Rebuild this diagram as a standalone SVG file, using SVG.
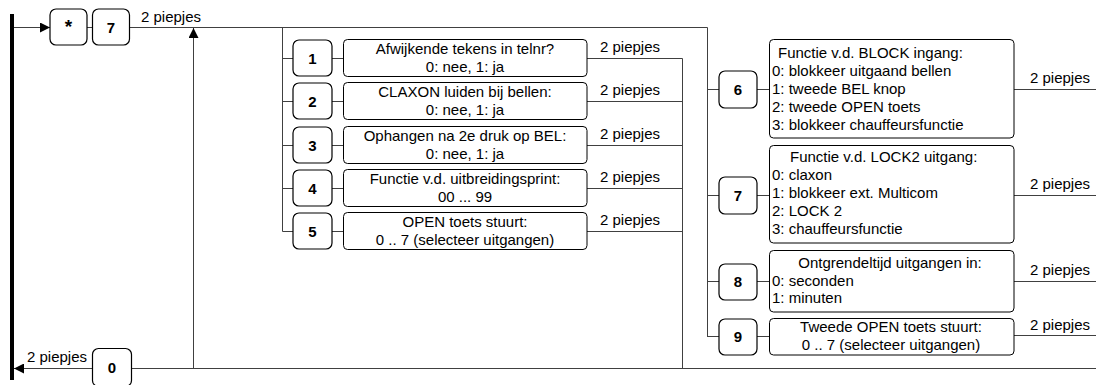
<svg xmlns="http://www.w3.org/2000/svg" width="1096" height="385" viewBox="0 0 1096 385">
<defs>
<marker id="ah" viewBox="0 0 10 10" refX="10" refY="5" markerWidth="10" markerHeight="10" markerUnits="userSpaceOnUse" orient="auto">
<path d="M0,0 L10,5 L0,10 z" fill="#000"/>
</marker>
</defs>
<style>
text{font-family:"Liberation Sans",Arial,sans-serif;font-size:15px;fill:#000}
.n{font-weight:bold;text-anchor:middle}
.c{text-anchor:middle}
.k{fill:#fff;stroke:#000;stroke-width:1.2}
.t{fill:#fff;stroke:#000;stroke-width:1}
.w{fill:none;stroke:#404040;stroke-width:1}
</style>
<g id="connectors">
<rect x="10" y="14" width="4" height="366" fill="#000"/>
<path class="w" d="M14,27.5 H50" marker-end="url(#ah)"/>
<path class="w" d="M87,27.5 H92 M130,27.5 H707.5 V337"/>
<path class="w" d="M193.5,368 V28" marker-end="url(#ah)"/>
<path class="w" d="M1096,368.5 H14" marker-end="url(#ah)"/>
<path class="w" d="M282.5,27.5 V231.5"/>
<path class="w" d="M682.5,58.5 V368"/>
<path class="w" d="M282.5,58.5 H293 M332,58.5 H343 M587,58.5 H682.5"/>
<path class="w" d="M282.5,101.5 H293 M332,101.5 H343 M587,101.5 H682.5"/>
<path class="w" d="M282.5,145.5 H293 M332,145.5 H343 M587,145.5 H682.5"/>
<path class="w" d="M282.5,188.5 H293 M332,188.5 H343 M587,188.5 H682.5"/>
<path class="w" d="M282.5,231.5 H293 M332,231.5 H343 M587,231.5 H682.5"/>
<path class="w" d="M707.5,89.5 H719 M757,89.5 H769 M1014,89.5 H1096"/>
<path class="w" d="M707.5,195.5 H719 M757,195.5 H769 M1014,195.5 H1096"/>
<path class="w" d="M707.5,281.5 H719 M757,281.5 H769 M1014,281.5 H1096"/>
<path class="w" d="M707.5,336.5 H719 M757,336.5 H769 M1014,335.5 H1096"/>
<text x="141" y="22">2 piepjes</text>
<text x="27" y="362">2 piepjes</text>
<text x="600" y="52">2 piepjes</text>
<text x="600" y="95">2 piepjes</text>
<text x="600" y="139">2 piepjes</text>
<text x="600" y="182">2 piepjes</text>
<text x="600" y="225">2 piepjes</text>
<text x="1030" y="83">2 piepjes</text>
<text x="1030" y="189">2 piepjes</text>
<text x="1030" y="275">2 piepjes</text>
<text x="1030" y="330">2 piepjes</text>
</g>
<g id="star"><rect class="k" x="50" y="9" width="37" height="36" rx="6"/><text class="n" x="68.5" y="32.5" style="font-size:19px">*</text></g>
<g id="seven"><rect class="k" x="92.5" y="9" width="37" height="36" rx="6"/><text class="n" x="111" y="33">7</text></g>
<g id="zero"><rect class="k" x="92.5" y="348.5" width="39" height="38" rx="6"/><text class="n" x="112" y="373">0</text></g>

<g id="n1"><rect class="k" x="293" y="40" width="39" height="36" rx="6"/><text class="n" x="312.5" y="63.5">1</text></g>
<g id="b1"><rect class="t" x="343.5" y="39.5" width="243.5" height="37" rx="4"/><text class="c" x="465" y="54">Afwijkende tekens in telnr?</text><text class="c" x="465" y="72">0: nee, 1: ja</text></g>
<g id="n2"><rect class="k" x="293" y="83" width="39" height="36" rx="6"/><text class="n" x="312.5" y="106.5">2</text></g>
<g id="b2"><rect class="t" x="343.5" y="82.5" width="243.5" height="37" rx="4"/><text class="c" x="465" y="97">CLAXON luiden bij bellen:</text><text class="c" x="465" y="115">0: nee, 1: ja</text></g>
<g id="n3"><rect class="k" x="293" y="127" width="39" height="36" rx="6"/><text class="n" x="312.5" y="150.5">3</text></g>
<g id="b3"><rect class="t" x="343.5" y="126.5" width="243.5" height="37" rx="4"/><text class="c" x="465" y="141">Ophangen na 2e druk op BEL:</text><text class="c" x="465" y="159">0: nee, 1: ja</text></g>
<g id="n4"><rect class="k" x="293" y="170" width="39" height="36" rx="6"/><text class="n" x="312.5" y="193.5">4</text></g>
<g id="b4"><rect class="t" x="343.5" y="169.5" width="243.5" height="37" rx="4"/><text class="c" x="465" y="184">Functie v.d. uitbreidingsprint:</text><text class="c" x="465" y="202">00 ... 99</text></g>
<g id="n5"><rect class="k" x="293" y="213" width="39" height="36" rx="6"/><text class="n" x="312.5" y="236.5">5</text></g>
<g id="b5"><rect class="t" x="343.5" y="212.5" width="243.5" height="37" rx="4"/><text class="c" x="465" y="227">OPEN toets stuurt:</text><text class="c" x="465" y="245">0 .. 7 (selecteer uitgangen)</text></g>

<g id="n6"><rect class="k" x="719" y="71" width="38" height="37" rx="6"/><text class="n" x="738" y="94.5">6</text></g>
<g id="b6"><rect class="t" x="769.5" y="39.5" width="244.5" height="98.5" rx="4"/>
<text x="778" y="57.5">Functie v.d. BLOCK ingang:</text>
<text x="772" y="75.5">0: blokkeer uitgaand bellen</text>
<text x="772" y="93.5">1: tweede BEL knop</text>
<text x="772" y="111.5">2: tweede OPEN toets</text>
<text x="772" y="129.5">3: blokkeer chauffeursfunctie</text></g>
<g id="n7"><rect class="k" x="719" y="177" width="38" height="37" rx="6"/><text class="n" x="738" y="200.5">7</text></g>
<g id="b7"><rect class="t" x="769.5" y="145.5" width="244.5" height="97.5" rx="4"/>
<text x="790" y="162">Functie v.d. LOCK2 uitgang:</text>
<text x="772" y="180">0: claxon</text>
<text x="772" y="198">1: blokkeer ext. Multicom</text>
<text x="772" y="216">2: LOCK 2</text>
<text x="772" y="234">3: chauffeursfunctie</text></g>
<g id="n8"><rect class="k" x="719" y="264" width="38" height="36" rx="6"/><text class="n" x="738" y="287">8</text></g>
<g id="b8"><rect class="t" x="769.5" y="250.5" width="244.5" height="61.5" rx="4"/>
<text class="c" x="890" y="268">Ontgrendeltijd uitgangen in:</text>
<text x="772" y="285.5">0: seconden</text>
<text x="772" y="303">1: minuten</text></g>
<g id="n9"><rect class="k" x="719" y="319" width="38" height="36" rx="6"/><text class="n" x="738" y="342">9</text></g>
<g id="b9"><rect class="t" x="769.5" y="318.5" width="244.5" height="36.5" rx="4"/>
<text class="c" x="891" y="332">Tweede OPEN toets stuurt:</text>
<text class="c" x="891" y="349.5">0 .. 7 (selecteer uitgangen)</text></g>
</svg>
